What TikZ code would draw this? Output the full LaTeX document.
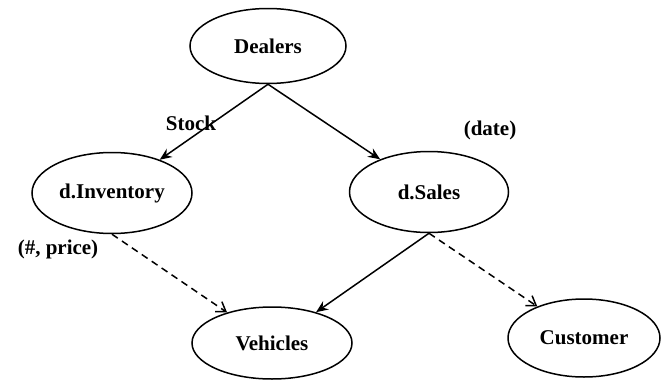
\documentclass[tikz,border=0pt]{standalone}
\usepackage{fontspec}
\setmainfont{Liberation Serif}
\usetikzlibrary{shapes.geometric,arrows.meta}
\begin{document}
\begin{tikzpicture}[x=1pt,y=-1pt,
  entity/.style={draw,ellipse,line width=1.5pt,inner sep=0pt,
    font=\fontsize{21}{24}\selectfont\bfseries},
  lbl/.style={font=\fontsize{21}{24}\selectfont\bfseries,inner sep=0pt},
  solidarrow/.style={line width=1.5pt,-{Stealth[length=12pt,width=10pt,inset=4pt]}},
  dasharrow/.style={line width=1.5pt,dash pattern=on 7pt off 5pt,
    -{Straight Barb[length=9pt,width=12pt]}}]
  \useasboundingbox (0,0) rectangle (661,380);

  % entity sets
  \node[entity,minimum width=156pt,minimum height=75pt] (dealers) at (268,46) {Dealers};
  \node[entity,minimum width=160pt,minimum height=81pt] (inv) at (112,193) {d.Inventory};
  \node[entity,minimum width=159pt,minimum height=81pt] (sales) at (429,192) {d.Sales};
  \node[entity,minimum width=160pt,minimum height=72pt] (veh) at (272,343) {Vehicles};
  \node[entity,minimum width=152pt,minimum height=78pt] (cust) at (584,338) {Customer};

  % relationships
  \draw[solidarrow] (dealers.south) -- (inv);
  \draw[solidarrow] (dealers.south) -- (sales);
  \draw[solidarrow] (sales.south) -- (veh);
  \draw[dasharrow] (inv.south) -- (veh);
  \draw[dasharrow] (sales.south) -- (cust);

  % attribute labels
  \node[lbl] (stock) at (191,123) {Stock};
  \node[lbl] (date) at (490,130) {(date)};
  \node[lbl] (price) at (58,249) {(\#, price)};
\end{tikzpicture}
\end{document}
